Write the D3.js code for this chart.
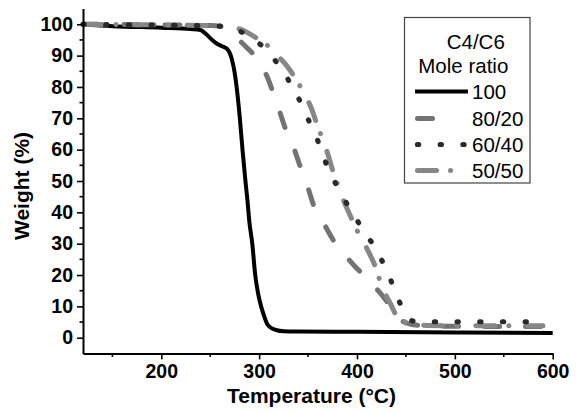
<!DOCTYPE html>
<html><head><meta charset="utf-8">
<script src="https://cdn.jsdelivr.net/npm/d3@7/dist/d3.min.js"></script>
<style>body{margin:0;background:#fff}svg{display:block}</style>
</head><body>
<svg id="c" width="581" height="412"></svg>
<script>
// ---- data ----
const temp100 = [120,150,200,230,240,246,252,257,262,267,270,272,275,277,280,283,286,288,290,293,296,299,302,305,308,312,318,325,340,400,500,600];
const w100    = [100,99.4,98.9,98.5,98.2,96.8,95.0,93.8,93.0,92.2,90.8,89,84.5,80,71,60,50,44,37,30,20,14,10,7,4.5,3.2,2.4,2.1,2.0,1.9,1.7,1.5];
const temp8020 = [120,200,250,262,270,278,287,296,302,308,315,321,328,335,342,349,356,366,375,381,390,398,406,414,420,427,434,441,447,455,462,475,530,590];
const w8020    = [100,99.8,99.6,99.2,97.6,95.4,92.7,89.7,86.8,83.4,77.5,72.1,65.7,60.9,54.6,48.7,42,36.5,31.5,28.5,25.5,22.7,20.3,17.8,15.6,13,10,6.7,5.2,4.3,4.0,3.7,3.6,3.6];
const temp6040 = [120,200,260,275,287,298,308,316,325,332,338,344,349,354,359,367,372,378,384,391,397,403,410,418,424,430,435,439,444,449,454,460,470,590];
const w6040    = [100,99.7,99.4,98.6,96.6,94.3,91.8,88.6,84.9,81,77.8,74,70.5,67,63.6,56.7,53,49.3,46,42,39,36,32.6,29,25.5,21.8,18,14.7,11,7.8,5.8,5.2,5.1,5.1];
const temp5050 = [120,200,250,270,280,290,298,308,317,326,336,344,354,359,364,371,375,380,386,396,403,410,420,424,427,434,441,447,455,462,475,530,590];
const w5050    = [100,99.8,99.6,99.2,98.5,97,95.5,93.4,90.5,87.6,83.3,79,72.7,68.2,64,57.8,53.5,49,44,37,32.4,28.5,21.6,17.6,15.2,11,6.7,5.4,4.6,4.2,3.9,3.8,3.8];
const seriesNames = ["100","80/20","60/40","50/50"];
const xTicks = [200,300,400,500,600];
const yTicks = [0,10,20,30,40,50,60,70,80,90,100];
const legendTitle = ["C4/C6","Mole ratio"];

// ---- styles ----
const styles = [
  {color:"#000000", width:4,   dash:null,            legendEnd:468},
  {color:"#737373", width:5,   dash:"15,26",         legendEnd:445},
  {color:"#2a2a2a", width:5.2, dash:"1.2,21.5",      legendEnd:468},
  {color:"#878787", width:5,   dash:"19,14,0.1,19",  legendEnd:458}
];
const seriesData = [[temp100,w100],[temp8020,w8020],[temp6040,w6040],[temp5050,w5050]]
  .map(([t,w]) => t.map((d,i)=>({t:d,w:w[i]})));

const svg = d3.select("#c");
const font = "'Liberation Sans', Arial, Helvetica, sans-serif";
const x = d3.scaleLinear().domain([120,600]).range([83,552.7]);
const y = d3.scaleLinear().domain([-5,105]).range([353.4,8.6]);

// curves
const line = d3.line().x(d=>x(d.t)).y(d=>y(d.w)).curve(d3.curveMonotoneX);
const order = [0,1,3,2];
order.forEach(i=>{
  const s = styles[i];
  svg.append("path").datum(seriesData[i]).attr("d",line)
    .attr("fill","none").attr("stroke",s.color).attr("stroke-width",s.width)
    .attr("stroke-linecap", s.dash ? "round" : "butt")
    .attr("stroke-linejoin","round")
    .attr("stroke-dasharray", s.dash);
});

// axes
const xAxis = d3.axisBottom(x).tickValues(xTicks).tickSize(6).tickSizeOuter(0).tickPadding(5);
const gx = svg.append("g").attr("transform",`translate(0,${y(-5)})`).call(xAxis);
const yAxis = d3.axisLeft(y).tickValues(yTicks).tickSize(6).tickSizeOuter(0).tickPadding(4);
const gy = svg.append("g").attr("transform",`translate(${x(120)},0)`).call(yAxis);
[gx,gy].forEach(g=>{
  g.select(".domain").attr("stroke","#000").attr("stroke-width",2);
  g.selectAll(".tick line").attr("stroke","#000").attr("stroke-width",1.6);
  g.selectAll(".tick text").attr("font-family",font).attr("font-weight","bold")
    .attr("font-size",19.5).attr("fill","#000");
});
gx.selectAll(".tick text").attr("dy","0.71em");
// minor ticks
const xMinor = [150,250,350,450,550];
svg.append("g").selectAll("line").data(xMinor).join("line")
  .attr("x1",d=>x(d)).attr("x2",d=>x(d)).attr("y1",y(-5)).attr("y2",y(-5)+3.5)
  .attr("stroke","#000").attr("stroke-width",1.6);
const yMinor = d3.range(5,100,10);
svg.append("g").selectAll("line").data(yMinor).join("line")
  .attr("y1",d=>y(d)).attr("y2",d=>y(d)).attr("x1",x(120)).attr("x2",x(120)-3.5)
  .attr("stroke","#000").attr("stroke-width",1.6);

// axis titles
svg.append("text").attr("x",311.5).attr("y",403).attr("text-anchor","middle")
  .attr("font-family",font).attr("font-weight","bold").attr("font-size",21)
  .text("Temperature (°C)");
svg.append("text").attr("transform","translate(29,186) rotate(-90)").attr("text-anchor","middle")
  .attr("font-family",font).attr("font-weight","bold").attr("font-size",21).text("Weight (%)");

// legend
const lg = svg.append("g");
lg.append("rect").attr("x",404.5).attr("y",17.5).attr("width",125.5).attr("height",165.5)
  .attr("fill","#fff").attr("stroke","#444").attr("stroke-width",1.2);
lg.append("text").attr("x",446.7).attr("y",48.5).text(legendTitle[0]);
lg.append("text").attr("x",418.3).attr("y",73).text(legendTitle[1]);
const baselines = [99,126,152,178];
seriesNames.forEach((n,i)=>{
  const s = styles[i];
  const ly = baselines[i]-7.5;
  lg.append("line").attr("x1", s.dash ? 417.5 : 415).attr("x2",s.legendEnd).attr("y1",ly).attr("y2",ly)
    .attr("stroke",s.color).attr("stroke-width",s.width)
    .attr("stroke-linecap", s.dash ? "round" : "butt")
    .attr("stroke-dasharray", s.dash);
  lg.append("text").attr("x",472).attr("y",baselines[i]).text(n);
});
lg.selectAll("text").attr("font-family",font).attr("font-size",20.5).attr("fill","#000");
</script>
</body></html>
